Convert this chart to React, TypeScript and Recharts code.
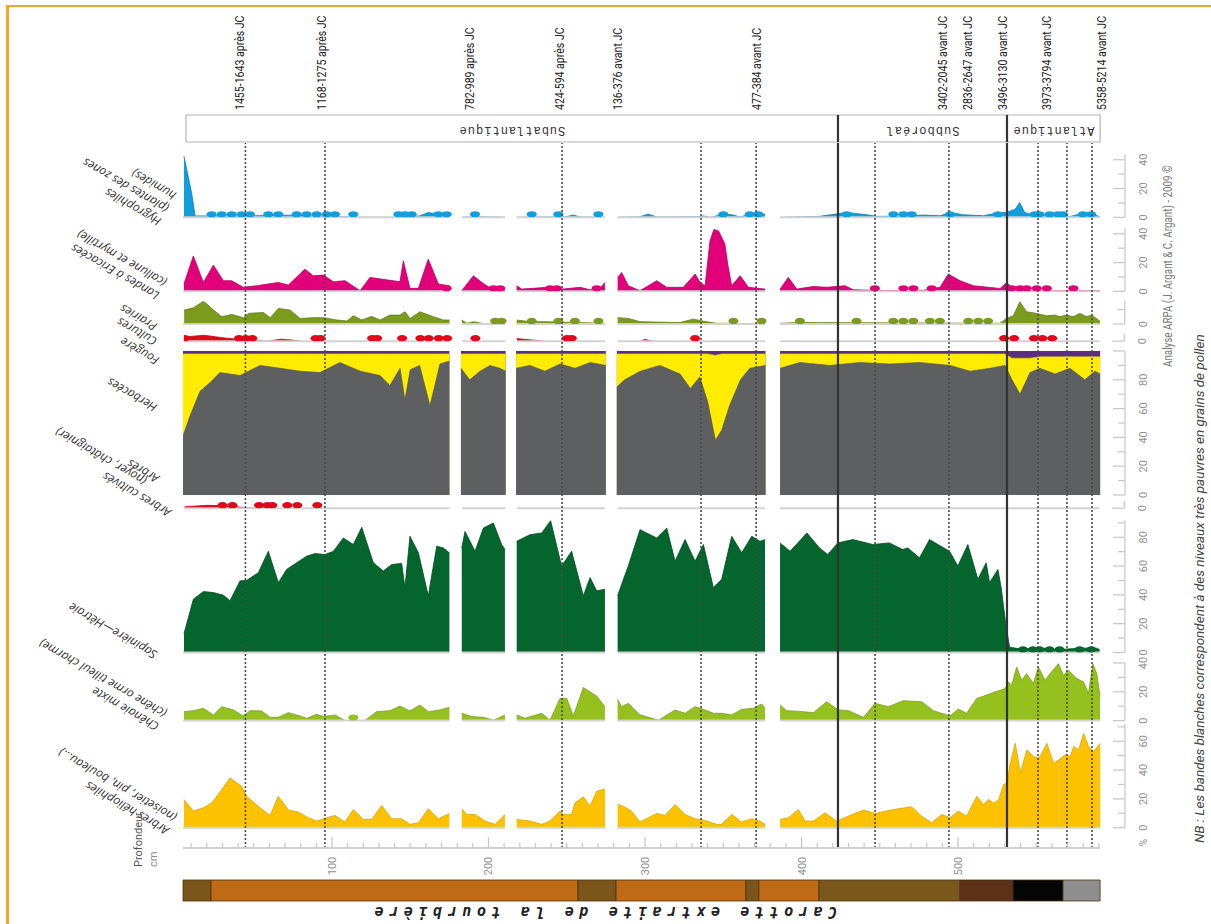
import React from "react"
import { ComposedChart, Area, Line, Scatter, XAxis, YAxis, ReferenceLine, ReferenceArea } from "recharts"

type Pt = [number, number]

// depth (cm) , percentage
const hygrophiles: Pt[] = [
  [5.4, 42.5], [10.3, 17], [12.5, 1], [24.2, 1], [45.5, 1], [71, 1.5], [88, 1], [105, 0.5], [118, 0], [141, 0], [156, 1], [161.5, 3.4], [167, 2.3], [175, 1],
  [182.9, 0], [192.5, 0.5], [210.5, 0],
  [218, 0], [250, 0.5], [254, 1.6], [258.5, 0.3], [274.4, 0],
  [282.5, 0], [297, 0.5], [302, 2.3], [307.5, 0.3], [335, 0.5], [337.3, 1], [341.5, 0], [351, 2.3], [356.5, 1.6], [360.8, 0.2], [367, 2.3], [376.7, 2.3],
  [386.3, 0], [411.5, 0.7], [422, 2.3], [429, 3.4], [441.7, 1.8], [448, 0.7], [463, 0.7], [478, 1.6], [488.5, 1.1], [495, 3.4], [503.5, 1.8], [516.3, 1.1],
  [524.8, 3], [531, 3.4], [536.5, 5.7], [539.4, 10.3], [542.6, 3.4], [548, 1.6], [554.3, 1], [565, 2.3], [571.3, 0.5], [577.7, 2.3], [584, 3], [590.5, 0.5],
]
const hygrophilesDots = [23.1, 29.5, 35.9, 42.3, 47.6, 59.3, 65.7, 77.4, 83.8, 90.2, 96.6, 101.9, 113.6, 142.4, 146.6, 150.9, 168, 173.3, 191.4, 227.6, 244.6, 270.2,
  350, 367, 372.4, 428.9, 458.7, 465.1, 470.4, 494.9, 525.5, 548.9, 552.1, 558.5, 563.8, 567, 579.8, 585.1]

const landes: Pt[] = [
  [5.4, 5.1], [11.4, 24.6], [17.8, 6.2], [24.2, 18.2], [30.6, 7.4], [35.9, 7.4], [43.3, 2.8], [51.8, 3.9], [65.7, 6.2], [72.1, 4.4], [82.7, 15.4], [88, 10.8],
  [94.5, 11.3], [100.9, 6.7], [108.3, 7.4], [117.9, 0.5], [124.3, 9.7], [134.9, 8], [143.4, 6.7], [145.6, 21.1], [149.8, 2.1], [155.2, 2.1], [161.5, 22.3], [168, 5.1], [175, 3.9],
  [182.9, 0.5], [190.4, 10.8], [195.7, 6.2], [202.1, 1.6], [210.5, 2.8],
  [218, 3.9], [221.2, 1.6], [228.6, 2.1], [237.1, 2.8], [247.8, 1.6], [258.5, 2.8], [264.9, 1.1], [271.2, 2.1], [274.4, 6.2],
  [282.5, 9.7], [285.1, 13.1], [289.3, 3.9], [296.8, 0.5], [307.5, 7.4], [313.9, 2.8], [324.5, 2.8], [332, 12], [335.2, 6.2], [338.4, 3.9], [341.5, 35], [344, 43],
  [347, 42], [351, 33], [353, 18], [355.4, 3.9], [360.8, 10.8], [366.1, 2.8], [376.7, 1.6],
  [386.3, 1.6], [391.6, 9.7], [397, 1.6], [407.6, 3.4], [416.1, 2.8], [427.8, 3.9], [433.1, 1.1], [445.9, 0.7], [458.7, 0.5], [477.9, 0.7], [488.5, 2.8], [493.8, 12],
  [501.3, 7.4], [509.8, 3.9], [526.9, 2], [531.1, 6.2], [535.4, 1.6], [543.9, 0.5], [590.8, 0.5],
]
const landesDots = [173.3, 203.1, 207.4, 239.3, 243.6, 269.1, 446.9, 465.1, 471.5, 483.2, 534.3, 539.6, 543.9, 550.3, 556.7, 573.7]

const prairies: Pt[] = [
  [5.4, 9.7], [11.4, 11.3], [17.8, 15.9], [24.2, 9.7], [29.5, 5.1], [35.9, 6.7], [43.3, 4.4], [46.5, 7.4], [56.1, 8], [60.4, 4.4], [65.7, 10.8], [73.1, 9.7],
  [79.5, 3.9], [88, 4.4], [94.5, 4.4], [103, 2.8], [109.4, 2.1], [113.6, 5.7], [119, 2.8], [125.3, 5.3], [130.7, 2.8], [137, 6.2], [143.4, 6.2], [146.6, 8.5],
  [149.8, 3.9], [156.2, 8.5], [164.7, 5.1], [171.1, 2.8], [175, 2.8],
  [182.9, 2.8], [186.1, 0.5], [190.4, 1.6], [196.7, 0.3], [210.5, 0.3],
  [218, 2.8], [226.5, 1.6], [237.1, 1.6], [274.4, 0.5],
  [282.5, 4.4], [289.3, 3.9], [296.8, 1.6], [322.2, 1], [330.8, 3.4], [339.3, 1.6], [345.7, 0.5], [376.7, 0.3],
  [386.3, 0.5], [397, 1], [526.9, 0.5], [531.1, 3.9], [535.4, 5.7], [539.6, 15.4], [543.9, 8.5], [550.3, 7.4], [556.7, 5.7], [562, 6.2], [565.2, 5.1],
  [569.5, 6.2], [573.7, 5.1], [578, 7.4], [582.3, 5.1], [585.5, 6.2], [590.8, 2],
]
const prairiesDots = [204.2, 208.4, 227.6, 244.6, 255.2, 270.2, 356.5, 374.5, 399, 435.2, 458.7, 465.1, 471.5, 482.1, 488.5, 506.6, 513, 519.3]

const cultures: Pt[] = [
  [5.4, 3], [17.8, 4.1], [30.6, 2.3], [45.5, 0.7], [58.2, 0], [66.8, 1.4], [73.1, 0.9], [79.5, 0],
  [218, 1.8], [228.6, 0.7], [235, 0],
  [296.8, 0], [300, 1.2], [305, 0],
]
const culturesDots = [5.4, 40.1, 44.4, 48.6, 89.1, 92.3, 125.3, 128.5, 144.5, 156.2, 161.5, 168, 173.3, 191.4, 250, 253.1, 332, 529.8, 536.2, 548.9, 554.3, 560.6]

// stacked 100 % panel : arbres (grey), herbacées (yellow), fougère (purple remainder)
const herbDepths = [4.8, 9.3, 15.7, 22, 28.4, 41.2, 54, 66.8, 79.6, 92.3, 105, 118, 130.7, 137, 143.5, 146.6, 150, 156, 162.6, 169, 175,
  182.4, 188, 194.6, 201, 207.3, 211,
  217.6, 226.5, 236, 245.7, 255.3, 265, 275,
  282, 287, 297, 309.6, 322.4, 329, 335, 340, 345, 349, 354, 361, 367, 377,
  386.3, 399, 418, 437, 456.6, 475.6, 495, 507.7, 520.5, 530, 534.5, 539.6, 546, 552.3, 562, 571.5, 581, 587.5, 590.8]
const arbresPct = [41, 55, 72, 78, 85, 83, 90, 88, 86, 85, 92, 86, 83, 76, 88, 66, 87, 90, 62, 91, 93,
  88, 80, 86, 90, 88, 86,
  88, 90, 86, 91, 88, 92, 90,
  75, 80, 86, 90, 84, 74, 82, 65, 38, 45, 62, 80, 88, 90,
  88, 92, 90, 92, 91, 92, 90, 86, 88, 90, 80, 70, 85, 88, 84, 88, 80, 86, 84]
const herbaceesPct = [57, 43, 26, 20, 13, 15, 8, 10, 12, 13, 6, 12, 15, 22, 10, 32, 11, 8, 36, 7, 5,
  10, 18, 12, 8, 10, 12,
  10, 8, 12, 7, 10, 6, 8,
  23, 18, 12, 8, 14, 24, 16, 33, 59, 53, 36, 18, 10, 8,
  10, 6, 8, 6, 7, 6, 8, 12, 10, 8, 15, 25, 10, 8, 12, 8, 16, 10, 12]

const cultives: Pt[] = [[5.4, 1], [20, 2], [35, 1.5], [44, 0.3], [50, 0]]
const cultivesDots = [29.5, 35.9, 52.9, 58.2, 61.4, 71, 77.4, 90.2]

const sapiniere: Pt[] = [
  [5.4, 13], [11.4, 37], [17.8, 42.3], [24.2, 41.6], [30.6, 39.8], [34.8, 35.9], [41.2, 49.7], [45.5, 50.1], [52.9, 55.4], [59.3, 70.3], [65.7, 48.5], [71, 57.7],
  [77.4, 62.3], [83.8, 66.9], [89.1, 68.7], [95.5, 68], [100.9, 70.3], [107.2, 79.5], [113.6, 75], [119, 86.9], [126.4, 62.3], [132.8, 56.6], [138.1, 61.1],
  [144.5, 61.8], [146.6, 45], [149.8, 80.7], [155.2, 69.2], [161.5, 39.3], [166.9, 73.8], [171.1, 72.6], [175, 69.2],
  [182.9, 72.6], [185, 84.1], [191.4, 70.3], [196.7, 86.4], [203.1, 89.9], [208.4, 75], [210.5, 71.5],
  [218, 77.2], [226.5, 81.8], [234, 83], [239.7, 91.5], [246.7, 60], [253.1, 70.3], [260.6, 39.3], [264.9, 52], [269.1, 42.8], [274.4, 43.9],
  [282.5, 39.3], [285.1, 47.4], [289.3, 60], [296.8, 85.3], [307.5, 79.5], [313.9, 86.4], [319.2, 63.4], [325.6, 78.4], [332, 63.4], [337.3, 75], [343.7, 45],
  [349, 50.8], [355.4, 80.7], [361.8, 69.2], [368.2, 80.7], [373.5, 77.2], [376.7, 78.4],
  [386.3, 76.1], [392.7, 70.3], [403.5, 83], [411.5, 72.6], [416.8, 68], [423.2, 76.1], [432.8, 78.4], [445.6, 75], [456.2, 76.1], [464.7, 71.5], [467.9, 72.6],
  [475.4, 65.7], [481.8, 78.4], [494.6, 70.3], [499.9, 60], [506.3, 75], [512.7, 50.8], [518, 62.3], [520.2, 48.5], [525.5, 57.7], [527.6, 45], [530.8, 17.5],
  [533, 3.7], [539.4, 2.5], [552.1, 3], [564.9, 2], [577.7, 3], [588.4, 3], [590.5, 2],
]
const sapiniereDots = [541.5, 547.9, 552.1, 558.5, 564.9, 577.7, 585.1]

const chenaie: Pt[] = [
  [5.4, 6.2], [11.4, 6.9], [17.8, 8.5], [24.2, 3.9], [29.5, 9.7], [37, 7.4], [43.3, 3.2], [47.6, 6.9], [55, 6.7], [60.4, 2.3], [65.7, 2.3], [72.1, 5.5],
  [77.4, 3.9], [83.8, 1.6], [90.2, 4.4], [94.5, 2.8], [101.9, 3.9], [108.3, 0], [121, 0], [128.5, 6.2], [137, 6.9], [143.4, 10.1], [149.8, 6.7], [156.2, 10.8],
  [161.5, 6.2], [169, 7.4], [175, 9.2],
  [182.9, 5.1], [189.2, 2.8], [196.7, 2.3], [203.1, 0.3], [210.5, 3.9],
  [218, 3.9], [223.3, 1.6], [234, 5.1], [239.3, 0.3], [245.7, 15.4], [250, 15.4], [254.2, 3.2], [260.6, 23], [264.9, 20], [269.1, 17], [274.4, 9.7],
  [282.5, 14.7], [285.1, 9.7], [289.3, 12], [296.8, 4], [308.6, 0.3], [319.2, 7.4], [325.6, 5.1], [332, 9.7], [337.3, 7.8], [343.7, 5.1], [349, 5.1],
  [355.4, 3.9], [361.8, 7.8], [369.2, 8.5], [374.5, 11.5], [376.7, 9],
  [386.3, 10.8], [390.5, 6.9], [401.2, 6.2], [407.6, 5.5], [416.1, 13.1], [423.6, 7.4], [430, 6.9], [439.6, 2.3], [447, 12], [455.5, 9.7], [465, 13.8],
  [476.8, 13.1], [484.3, 6.9], [494.9, 3.2], [500.2, 8], [505.5, 5.1], [512, 15.4], [518.3, 17.7], [523.7, 20], [526.9, 21], [530.1, 22.3], [532.2, 26.9],
  [534.3, 24.6], [537.5, 37.2], [540.7, 28], [543.9, 32.6], [548.2, 25.7], [551.4, 37.2], [555.6, 28], [558.8, 32.6], [564.2, 39.5], [567.4, 31.5],
  [570.6, 34.9], [575.9, 29.2], [580.2, 26.9], [583.4, 18.9], [586.2, 39.5], [588.7, 32.6], [590.8, 16.6],
]
const chenaieDots = [113.6]

const heliophiles: Pt[] = [
  [5.4, 19.5], [11.4, 11.5], [17.8, 13.8], [23.1, 17.2], [29.5, 26.4], [34.8, 34.5], [42.3, 28.7], [45.5, 21.8], [54, 13.8], [60.4, 8.5], [65.7, 21.8],
  [72.1, 12.2], [78.5, 10.8], [84.9, 6.9], [90.2, 4.6], [96.6, 6.9], [101.9, 8.5], [108.3, 3.9], [113.6, 12.6], [120, 5.7], [125.3, 5.7], [131.7, 15.4],
  [138.1, 6.2], [144.5, 6.2], [149.8, 2.3], [155.2, 3.4], [161.5, 13.1], [168, 6.2], [175, 9.9],
  [182.9, 13.1], [186.1, 9.2], [191.4, 9.2], [197.8, 4.6], [204.2, 2.3], [210.5, 9.2],
  [218, 5.7], [226.5, 4.6], [234, 2.3], [239.3, 4.6], [245.7, 11.5], [247.8, 9.2], [253.1, 9.2], [255.2, 17.2], [260.6, 21.4], [264.9, 14.9], [269.1, 25.3], [274.4, 26.9],
  [282.5, 16.1], [286.1, 14.9], [291.4, 11.5], [296.8, 4], [307.5, 9.9], [312.8, 8.5], [319.2, 16.1], [325.6, 9.2], [332, 6.2], [337.3, 5.3], [345.8, 2.3],
  [349, 2.3], [355.4, 9.2], [361.8, 3.9], [368.2, 6.2], [373.5, 4.6], [376.7, 2.3],
  [386.3, 5.7], [391.6, 6.9], [398, 12.6], [402.3, 4.6], [407.6, 4.6], [415, 10.3], [422.5, 4.6], [431, 8.5], [439.6, 12.2], [447, 9.9], [458.7, 12.6],
  [470.4, 14.5], [476.8, 8], [483.2, 3.4], [489.6, 9.2], [494.9, 6.9], [500.2, 11.5], [505.5, 8], [512, 21.8], [516.3, 16.1], [519.5, 19.5], [522.7, 17.2],
  [525.9, 19.1], [529.1, 29.9], [531.3, 31], [533.4, 44.8], [536.6, 58.6], [539.8, 37.9], [544, 54], [548.3, 49.4], [551.5, 48.3], [553.6, 51.7],
  [556.8, 58.6], [561.1, 44.8], [564.3, 47.1], [568.5, 50.6], [571.7, 49.4], [573.9, 56.3], [577.1, 54], [580.3, 65.5], [583.4, 56.3], [586.6, 52.9], [590.9, 58.6],
]

// dated levels, zones and core layers
const dateLines = [44.7, 95.5, 247, 335.8, 371, 447, 494.2, 551.1, 569.6, 585.6]
const zoneBounds = [423.3, 531.3]
const dateLabels = [
  { depth: 41.2, text: "1455-1643 après JC" },
  { depth: 93.6, text: "1168-1275 après JC" },
  { depth: 188.2, text: "782-989 après JC" },
  { depth: 245.7, text: "424-594 après JC" },
  { depth: 282.7, text: "136-376 avant JC" },
  { depth: 371.5, text: "477-384  avant JC" },
  { depth: 490.3, text: "3402-2045 avant JC" },
  { depth: 506.4, text: "2836-2647 avant JC" },
  { depth: 528.8, text: "3496-3130 avant JC" },
  { depth: 556.9, text: "3973-3794 avant JC" },
  { depth: 592, text: "5358-5214 avant JC" },
]
const zones = [
  { name: "Subatlantique", from: 6.7, to: 423.3 },
  { name: "Subboréal", from: 423.3, to: 531.3 },
  { name: "Atlantique", from: 531.3, to: 590.8 },
]
const coreLayers = [
  { from: 4.8, to: 22.7, color: "#7b561b" },
  { from: 22.7, to: 257.2, color: "#bf6b16" },
  { from: 257.2, to: 281.5, color: "#7b561b" },
  { from: 281.5, to: 364.5, color: "#bf6b16" },
  { from: 364.5, to: 372.8, color: "#7b561b" },
  { from: 372.8, to: 411.2, color: "#bf6b16" },
  { from: 411.2, to: 501.3, color: "#7b591d" },
  { from: 501.3, to: 535.1, color: "#5c3118" },
  { from: 535.1, to: 567.1, color: "#050505" },
  { from: 567.1, to: 590.8, color: "#8e8e8e" },
]
const depthTicks = [10, 20, 30, 40, 50, 60, 70, 80, 90, 100, 110, 120, 130, 140, 150, 160, 170, 180, 190, 200, 210, 220, 230, 240, 250, 260, 270, 280, 290,
  300, 310, 320, 330, 340, 350, 360, 370, 380, 390, 400, 410, 420, 430, 440, 450, 460, 470, 480, 490, 500, 510, 520, 530, 540, 550, 560, 570, 580, 590]
const depthLabels = [100, 200, 300, 400, 500]

const panelLabels = [
  { lines: ["Hygrophiles", "(plantes des zones", "humides)"], x: 162, y: 219 },
  { lines: ["Landes à Ericacées", "(callune et myrtille)"], x: 160, y: 293 },
  { lines: ["Prairies"], x: 158, y: 324 },
  { lines: ["Cultures"], x: 158, y: 339 },
  { lines: ["Fougère"], x: 160, y: 358 },
  { lines: ["Herbacées"], x: 158, y: 405 },
  { lines: ["Arbres"], x: 160, y: 476 },
  { lines: ["Arbres cultivés", "(noyer, châtaignier)"], x: 172, y: 510, shift: [0, 37] },
  { lines: ["Sapinière—Hêtraie"], x: 158, y: 652 },
  { lines: ["Chênaie mixte", "(chêne orme tilleul charme)"], x: 160, y: 724 },
  { lines: ["Arbres héliophiles", "(noisetier, pin, bouleau...)"], x: 170, y: 828 },
]

const DOMAIN: [number, number] = [4.8, 606.7]
const LEFT = 183
const PLOT_W = 942
const AXIS_W = 60
const PX = 1.44
const gapDepths = [179, 214.5, 278.5, 381.5]
const segments: Pt[] = [[4.8, 175], [182.9, 210.5], [218, 274.4], [282.5, 376.7], [386.3, 590.8]]
const GRID = "#c6c6c6"

const withGaps = (pts: Pt[]) => {
  const rows: { depth: number; v: number | null }[] = pts.map(([depth, v]) => ({ depth, v }))
  gapDepths.forEach((depth) => rows.push({ depth, v: null }))
  return rows.sort((a, b) => a.depth - b.depth)
}

const herbRows = (() => {
  const rows: any[] = herbDepths.map((depth, i) => ({
    depth,
    arbres: arbresPct[i],
    herb: arbresPct[i] + herbaceesPct[i],
    fougere: 100,
  }))
  gapDepths.forEach((depth) => rows.push({ depth, arbres: null, herb: null, fougere: null }))
  return rows.sort((a, b) => a.depth - b.depth)
})()

const RightTick = ({ x, y, payload, pct, skip }: any) => {
  const v = payload.value
  const major = v % 20 === 0 && v !== skip
  return (
    <g>
      <line x1={x - (v % 20 === 0 ? 12 : 7)} x2={x} y1={y} y2={y} stroke={GRID} strokeWidth={1.2} />
      {major && (
        <text transform={`translate(${x + 22},${y}) rotate(-90)`} textAnchor="middle" fontSize={11} fill="#8f8f8f">
          {v}
        </text>
      )}
      {pct && v === 0 && (
        <text transform={`translate(${x + 22},${y + 15}) rotate(-90)`} textAnchor="middle" fontSize={10} fill="#8f8f8f">
          %
        </text>
      )}
    </g>
  )
}

const DepthTick = ({ x, y, payload }: any) => {
  const v = payload.value
  const major = depthLabels.includes(v)
  return (
    <g>
      <line x1={x} x2={x} y1={y - (major ? 11 : 5)} y2={y} stroke={GRID} strokeWidth={1.2} />
      {major && (
        <text transform={`translate(${x + 4},${y + 18}) rotate(-90)`} textAnchor="middle" fontSize={11} fill="#8f8f8f">
          {v}
        </text>
      )}
    </g>
  )
}

const DateLabel = ({ viewBox, text }: any) => (
  <text
    transform={`translate(${viewBox.x + 4},${viewBox.y - 33}) rotate(-90) scale(0.88,1.12)`}
    textAnchor="start"
    fontSize={12}
    fill="#222"
  >
    {text}
  </text>
)

const ZoneLabel = ({ viewBox, text }: any) => (
  <text
    transform={`translate(${viewBox.x + viewBox.width / 2},${viewBox.y + viewBox.height / 2 + 1}) rotate(180)`}
    textAnchor="middle"
    dominantBaseline="central"
    fontFamily="'Liberation Mono', monospace"
    fontSize={12}
    letterSpacing={1}
    fill="#333"
  >
    {text}
  </text>
)

type PanelProps = {
  baseline: number
  max: number
  ticks: number[]
  color: string
  edge: string
  points: Pt[]
  dots?: number[]
  pct?: boolean
}

const Panel = ({ baseline, max, ticks, color, edge, points, dots, pct }: PanelProps) => {
  const h = max * PX
  return (
    <div style={{ position: "absolute", left: LEFT, top: baseline - h }}>
      <ComposedChart width={PLOT_W + AXIS_W} height={h} data={withGaps(points)} margin={{ top: 0, right: 0, bottom: 0, left: 0 }}>
        <XAxis dataKey="depth" type="number" domain={DOMAIN} allowDataOverflow hide />
        <YAxis
          orientation="right"
          width={AXIS_W}
          domain={[0, max]}
          allowDataOverflow
          ticks={ticks}
          interval={0}
          tickSize={0}
          tickMargin={0}
          tickLine={false}
          axisLine={{ stroke: GRID, strokeWidth: 1.2 }}
          tick={<RightTick pct={pct} />}
        />
        {segments.map(([a, b]) => (
          <ReferenceLine key={a} segment={[{ x: a, y: 0 }, { x: b, y: 0 }]} stroke="#d2d2d2" strokeWidth={2} />
        ))}
        <Area type="linear" dataKey="v" fill={color} fillOpacity={1} stroke={edge} strokeWidth={0.8} isAnimationActive={false} dot={false} activeDot={false} />
        {dots && (
          <Scatter
            data={dots.map((depth) => ({ depth, v: 0 }))}
            dataKey="v"
            fill={color}
            isAnimationActive={false}
            shape={(p: any) => <ellipse cx={p.cx} cy={p.cy - 3} rx={5} ry={3.2} fill={color} />}
          />
        )}
      </ComposedChart>
    </div>
  )
}

const HerbPanel = () => {
  const max = 100
  const h = max * PX
  const baseline = 495
  return (
    <div style={{ position: "absolute", left: LEFT, top: baseline - h }}>
      <ComposedChart width={PLOT_W + AXIS_W} height={h} data={herbRows} margin={{ top: 0, right: 0, bottom: 0, left: 0 }}>
        <XAxis dataKey="depth" type="number" domain={DOMAIN} allowDataOverflow hide />
        <YAxis
          orientation="right"
          width={AXIS_W}
          domain={[0, max]}
          allowDataOverflow
          ticks={[0, 10, 20, 30, 40, 50, 60, 70, 80, 90, 100]}
          interval={0}
          tickSize={0}
          tickMargin={0}
          tickLine={false}
          axisLine={{ stroke: GRID, strokeWidth: 1.2 }}
          tick={<RightTick skip={100} />}
        />
        <Area type="linear" dataKey="fougere" fill="#5a2d82" fillOpacity={1} stroke="none" isAnimationActive={false} dot={false} activeDot={false} />
        <Area type="linear" dataKey="herb" fill="#ffec00" fillOpacity={1} stroke="#e0cf00" strokeWidth={0.6} isAnimationActive={false} dot={false} activeDot={false} />
        <Area type="linear" dataKey="arbres" fill="#5e5f61" fillOpacity={1} stroke="#4d4d4f" strokeWidth={0.6} isAnimationActive={false} dot={false} activeDot={false} />
      </ComposedChart>
    </div>
  )
}

// a chart that only carries reference marks; an invisible line keeps the axes alive
const Frame = ({ top, height, rows, marginTop = 0, marginBottom = 0, children }: any) => (
  <div style={{ position: "absolute", left: LEFT, top }}>
    <ComposedChart width={PLOT_W} height={height} data={rows} margin={{ top: marginTop, right: 0, bottom: marginBottom, left: 0 }}>
      <XAxis dataKey="depth" type="number" domain={DOMAIN} allowDataOverflow hide />
      <YAxis hide type="number" domain={[0, 1]} allowDataOverflow />
      <Line dataKey="base" stroke="none" dot={false} activeDot={false} isAnimationActive={false} />
      {children}
    </ComposedChart>
  </div>
)

export default function App() {
  return (
    <div style={{ position: "absolute", left: 0, top: 0, width: 1211, height: 924, background: "#fff", fontFamily: "Roboto, 'Open Sans', sans-serif", overflow: "hidden" }}>
      <style>{`.recharts-surface{overflow:visible}`}</style>
      <div style={{ position: "absolute", left: 6, top: 5, width: 1300, height: 1000, borderTop: "2px solid #f5a623", borderLeft: "3px solid #f5a623" }} />

      <Panel baseline={217} max={44} ticks={[0, 10, 20, 30, 40]} color="#109fdc" edge="#0b7fb5" points={hygrophiles} dots={hygrophilesDots} />
      <Panel baseline={291} max={44} ticks={[0, 10, 20, 30, 40]} color="#e2007a" edge="#b80063" points={landes} dots={landesDots} />
      <Panel baseline={324} max={16} ticks={[0, 10]} color="#7a9b1c" edge="#617c14" points={prairies} dots={prairiesDots} />
      <Panel baseline={341} max={5} ticks={[0]} color="#e3061b" edge="#b80515" points={cultures} dots={culturesDots} />
      <HerbPanel />
      <Panel baseline={508} max={5} ticks={[0]} color="#e3061b" edge="#b80515" points={cultives} dots={cultivesDots} />
      <Panel baseline={652} max={92} ticks={[0, 10, 20, 30, 40, 50, 60, 70, 80, 90]} color="#04652d" edge="#034d22" points={sapiniere} dots={sapiniereDots} />
      <Panel baseline={721} max={40} ticks={[0, 10, 20, 30, 40]} color="#95c11f" edge="#7aa018" points={chenaie} dots={chenaieDots} />
      <Panel baseline={828} max={72} ticks={[0, 10, 20, 30, 40, 50, 60, 70]} color="#fcc200" edge="#d9a600" points={heliophiles} pct />

      {/* zones band */}
      <Frame top={115} height={27} rows={zones.map((z) => ({ depth: z.from, base: 0 }))}>
        {zones.map((z) => (
          <ReferenceArea key={z.name} x1={z.from} x2={z.to} y1={0} y2={1} fill="#fff" fillOpacity={1} stroke="#b4b4b4" strokeWidth={1.2} label={<ZoneLabel text={z.name} />} />
        ))}
        {zoneBounds.map((d) => (
          <ReferenceLine key={d} x={d} stroke="#333" strokeWidth={2.2} />
        ))}
      </Frame>

      {/* dated levels overlay */}
      <Frame top={0} height={850} marginTop={143} marginBottom={2} rows={dateLines.map((depth) => ({ depth, base: 0 }))}>
        {dateLines.map((d) => (
          <ReferenceLine key={d} x={d} stroke="#4a4a4a" strokeWidth={1.6} strokeDasharray="2 2" />
        ))}
        {zoneBounds.map((d) => (
          <ReferenceLine key={d} x={d} stroke="#333" strokeWidth={2.2} />
        ))}
        {dateLabels.map((l) => (
          <ReferenceLine key={l.text} x={l.depth} stroke="none" label={<DateLabel text={l.text} />} />
        ))}
      </Frame>

      {/* depth axis */}
      <div style={{ position: "absolute", left: LEFT, top: 830 }}>
        <ComposedChart width={PLOT_W} height={50} data={depthTicks.map((depth) => ({ depth, base: 0 }))} margin={{ top: 0, right: 0, bottom: 0, left: 0 }}>
          <XAxis
            dataKey="depth"
            type="number"
            domain={DOMAIN}
            allowDataOverflow
            ticks={depthTicks}
            interval={0}
            tickSize={0}
            tickMargin={0}
            tickLine={false}
            axisLine={false}
            height={32}
            tick={<DepthTick />}
          />
          <YAxis hide type="number" domain={[0, 1]} allowDataOverflow />
          <Line dataKey="base" stroke="none" dot={false} activeDot={false} isAnimationActive={false} />
          <ReferenceLine segment={[{ x: 4.8, y: 0 }, { x: 590.8, y: 0 }]} stroke="#d0d0d0" strokeWidth={2} />
        </ComposedChart>
      </div>

      {/* core */}
      <Frame top={880} height={21} rows={coreLayers.map((l) => ({ depth: l.from, base: 0 }))}>
        {coreLayers.map((l) => (
          <ReferenceArea key={l.from} x1={l.from} x2={l.to} y1={0} y2={1} fill={l.color} fillOpacity={1} stroke="#4a3210" strokeWidth={0.8} />
        ))}
      </Frame>

      <svg width={1211} height={924} style={{ position: "absolute", left: 0, top: 0, pointerEvents: "none" }}>
        {panelLabels.map((l) => (
          <text key={l.lines[0]} transform={`translate(${l.x},${l.y}) rotate(210)`} fontStyle="italic" fontSize={12} fill="#333" fontFamily="'Open Sans', sans-serif">
            {l.lines.map((line, i) => (
              <tspan key={line} x={l.shift ? l.shift[i] : 0} dy={i ? 15 : 0}>
                {line}
              </tspan>
            ))}
          </text>
        ))}
        <text transform="translate(142,867) rotate(-90)" fontSize={11} fill="#555">Profondeur</text>
        <text transform="translate(157,867) rotate(-90)" fontSize={11} fill="#888">cm</text>
        <text transform="translate(1172,367) rotate(-90) scale(0.82,1.05)" fontSize={12} fill="#777">
          Analyse ARPA (J. Argant &amp; C. Argant) - 2009 ©
        </text>
        <text transform="translate(1204,843) rotate(-90)" fontSize={13.5} fontStyle="italic" fill="#444">
          NB : Les bandes blanches correspondent à des niveaux très pauvres en grains de pollen
        </text>
        <text
          transform="translate(603,907) rotate(180)"
          textAnchor="middle"
          fontSize={15}
          fontWeight="bold"
          fontStyle="italic"
          fontFamily="'DejaVu Sans Mono', monospace"
          letterSpacing={5.6}
          fill="#222"
        >
          Carotte extraite de la tourbière
        </text>
      </svg>
    </div>
  )
}
